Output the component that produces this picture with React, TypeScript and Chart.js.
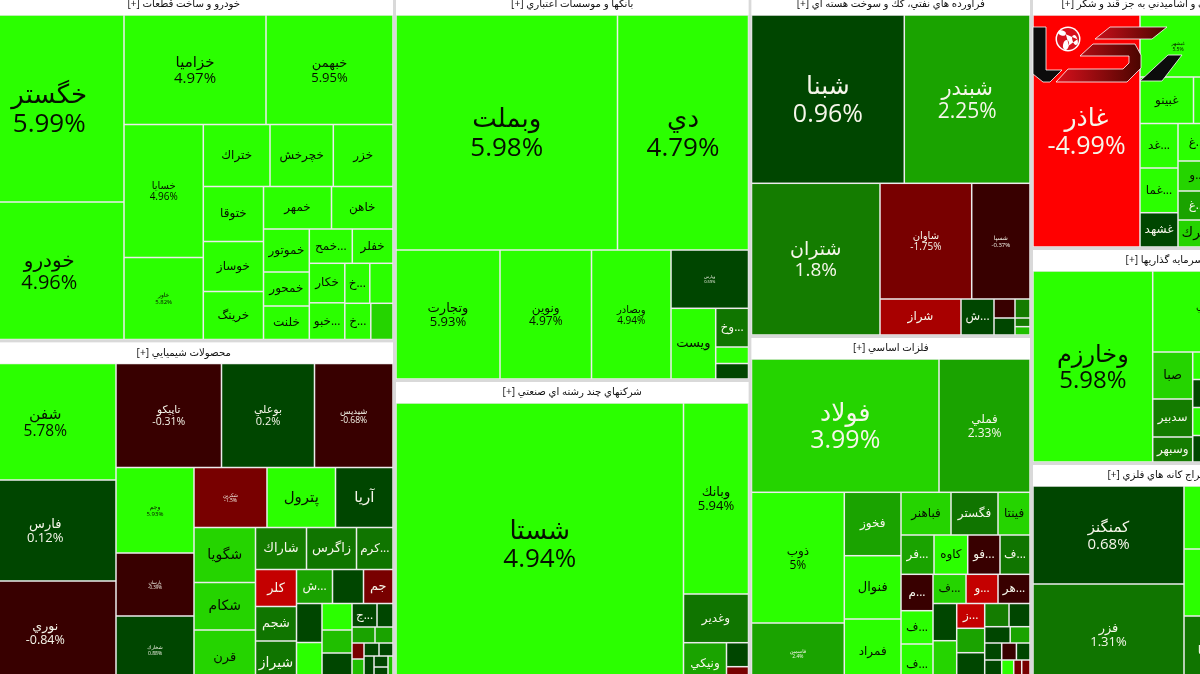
import React, { useEffect, useRef } from "react";
import { Chart, registerables, DatasetController, Element } from "chart.js";

// ---------- shape helpers: a number n means n consecutive leaves ----------
const H = (...kids: any[]) => ({ dir: "h", kids });
const V = (...kids: any[]) => ({ dir: "v", kids });

// ---------- sector titles ----------
const sectorTitles = [
  "خودرو و ساخت قطعات [+]",
  "محصولات شيميايي [+]",
  "بانكها و موسسات اعتباري [+]",
  "شركتهاي چند رشته اي صنعتي [+]",
  "فراورده هاي نفتي، كك و سوخت هسته اي [+]",
  "فلزات اساسي [+]",
  "محصولات غذايي و اشاميدني به جز قند و شكر [+]",
  "سرمايه گذاريها [+]",
  "استخراج كانه هاي فلزي [+]",
];
const sectorCaps = [146894, 145418, 137934, 108603, 96836, 98384, 67968, 57083, 59074];

// ---------- Auto ----------
const autoNames = ["خگستر", "خودرو", "خزاميا", "خبهمن", "خسايا", "خاور", "ختراك", "خچرخش", "خزر", "ختوقا", "خوساز", "خرينگ", "خمهر", "خاهن", "خموتور", "خمحور", "خلنت", "خمح...", "خفلر", "خكار", "خبو...", "خ...", "", "خ...", ""];
const autoChanges = [5.99, 4.96, 4.97, 5.95, 4.96, 5.82, 5, 5, 5, 5, 5, 5, 5, 5, 5, 5, 5, 5, 5, 5, 5, 5, 5, 5, 4.2];
const autoCaps = [27957, 20556, 15549, 13907, 10547, 6503, 4135, 3925, 3701, 3311, 3010, 2890, 2890, 2614, 1969, 1557, 1534, 1475, 1396, 1402, 1303, 1000, 928, 941, 804];
const autoShape = H(V(2), V(H(2), H(V(2), V(H(3), H(V(3), V(H(2), H(V(3), V(H(2), H(V(2), V(H(2), H(2)))))))))));

// ---------- Chemicals ----------
const chemNames = ["شفن", "فارس", "نوري", "تاپيكو", "بوعلي", "شيديس", "وجم", "پارسان", "شخارك", "شكربن", "پترول", "آريا", "شگويا", "شكام", "قرن", "شاراك", "زاگرس", "كرم...", "كلر", "شجم", "شيراز", "ش...", "", "جم", "", "", "", "", "", "ج...", "", "", "", "", "", "", "", "", "", "", ""];
const chemChanges = [5.78, 0.12, -0.84, -0.31, 0.2, -0.68, 5.93, -0.39, 0.88, -1.5, 5, 0.5, 4.2, 4.2, 4.2, 1.9, 1.2, 1.2, -3.5, 1.2, 1.2, 2.2, 0.5, -1.6, 0.5, 5, 5, 3, 0.5, 0.6, 0.6, 2.3, 2.3, -1.6, 3, 0.5, 0.5, 0.5, 0.5, 0.5, 3];
const chemCaps = [16485, 14292, 14645, 10972, 9672, 8164, 6669, 4914, 5343, 4380, 4110, 3450, 3383, 2921, 3352, 2142, 2100, 1533, 1517, 1415, 1784, 1224, 1054, 1003, 995, 1071, 795, 690, 945, 588, 376, 368, 288, 192, 306, 195, 182, 285, 154, 245, 142];
const chemShape = H(V(3), V(H(3), H(V(3), V(H(3), H(V(3), V(H(3), H(V(3), V(H(3), H(V(2), V(3), V(H(2), H(2), H(V(2), V(H(2), H(1, V(2), 1)))))))))))));

// ---------- Banks ----------
const bankNames = ["وبملت", "دي", "وتجارت", "ونوين", "وبصادر", "وپارس", "ويست", "وخ...", "", ""];
const bankChanges = [5.98, 4.79, 5.93, 4.97, 4.94, 0.59, 4.9, 1.2, 5, 0.3];
const bankCaps = [52053, 30785, 13416, 11804, 10256, 4518, 3160, 1269, 541, 508];
const bankShape = V(H(2), H(3, V(1, H(1, V(3)))));

// ---------- Multi-industry ----------
const multiNames = ["شستا", "وبانك", "وغدير", "ونيكي", "", ""];
const multiChanges = [4.94, 5.94, 1.2, 2.2, 0.3, -1.5];
const multiCaps = [80931, 12415, 3166, 1797, 528, 392];
const multiShape = H(1, V(2, H(1, V(2))));

// ---------- Oil products ----------
const oilNames = ["شبنا", "شبندر", "شتران", "شاوان", "شسپا", "شراز", "ش...", "", "", "", "", ""];
const oilChanges = [0.96, 2.25, 1.8, -1.75, -0.37, -2.5, 0.5, -0.5, 0.5, 1.5, 1.5, 3];
const oilCaps = [25716, 21155, 19493, 10610, 6745, 2916, 1188, 399, 357, 285, 130, 125];
const oilShape = V(H(2), H(1, V(H(2), H(2, V(2), V(3)))));

// ---------- Basic metals ----------
const metalNames = ["فولاد", "فملي", "ذوب", "فاسمين", "فخوز", "فنوال", "فمراد", "فباهنر", "فگستر", "فينتا", "فر...", "كاوه", "فو...", "ف...", "م...", "ف...", "ف...", "ف...", "و...", "هر...", "", "", "ز...", "", "", "", "", "", "", "", "", "", "", "", "", ""];
const metalChanges = [3.99, 2.33, 5, 2.4, 2.2, 5, 5, 4.2, 1.2, 4.2, 2.3, 5, -0.5, 1.2, -0.5, 5, 5, 4.2, -3.5, -0.5, 0.5, 4.2, -3.5, 2.3, 0.5, 1.5, 0.5, 0.5, 2.3, 0.5, -0.5, 0.5, 0.5, 5, -1.6, -1.6];
const metalCaps = [24994, 12130, 12129, 5707, 3595, 3589, 3714, 2135, 2007, 1366, 1297, 1324, 1269, 1179, 1165, 1066, 1296, 964, 934, 934, 882, 1038, 694, 683, 890, 564, 487, 416, 323, 289, 250, 231, 417, 294, 196, 203];
const metalShape = V(H(2), H(V(2), V(3), V(H(3), H(4), H(V(3), V(H(3), H(V(2), V(3), V(H(2), H(2), H(3), H(4))))))));

// ---------- Food ----------
const foodNames = ["غاذر", "غبشهر", "", "غبينو", "", "غد...", "غما...", "غشهد", "غ...", "و...", "غ...", "غبرك", ""];
const foodChanges = [-4.99, 5.5, 5, 5, 5, 5, 5, 0.5, 5, 4.2, 2.3, 4.1, 5];
const foodCaps = [24824, 4712, 4929, 2488, 4743, 1691, 1699, 1303, 1425, 1140, 1102, 1026, 9818];
const foodShape = H(1, V(H(2), H(2), H(V(3), V(4), 1)));

// ---------- Investment ----------
const investNames = ["وخارزم", "وبوعلي", "", "صبا", "سدبير", "وسبهر", "", "", "", "", ""];
const investChanges = [5.98, 5.5, 5, 4.1, 1.9, 1.5, 5, 0.5, 5, 0.5, 5];
const investCaps = [22863, 9477, 2090, 1880, 1520, 1000, 1100, 1120, 1120, 1060, 6908];
const investShape = H(1, V(H(2), H(V(3), V(4), 1)));

// ---------- Mining ----------
const mineNames = ["كمنگنز", "فزر", "", "", "تا...", ""];
const mineChanges = [0.68, 1.31, 5, 5, 1.2, 5];
const mineCaps = [14798, 15176, 2772, 2948, 3014, 13399];
const mineShape = H(V(2), V(3), 1);

// ---------- Label style (not data) ----------
const labelSizes: Record<string, number> = {
  "خگستر": 26, "خودرو": 20, "خزاميا": 15, "خبهمن": 13, "خسايا": 10, "خاور": 6,
  "شفن": 15.5, "فارس": 13, "نوري": 12.5, "تاپيكو": 10.5, "بوعلي": 11, "شيديس": 8.5, "وجم": 6, "پارسان": 4.5, "شخارك": 5, "شكربن": 5,
  "پترول": 15, "آريا": 15, "شگويا": 14, "شكام": 14, "قرن": 13, "شاراك": 13, "زاگرس": 13, "شيراز": 14, "كلر": 13, "شجم": 13, "جم": 13,
  "وبملت": 26, "دي": 26, "وتجارت": 13, "ونوين": 12, "وبصادر": 10, "وپارس": 4, "ويست": 13,
  "شستا": 26, "وبانك": 13, "شبنا": 25, "شبندر": 21, "شتران": 19, "شاوان": 10, "شسپا": 6,
  "فولاد": 25, "فملي": 12, "ذوب": 12, "فاسمين": 5, "كمنگنز": 15, "فزر": 13, "غاذر": 25, "وخارزم": 24, "غبشهر": 5, "وبوعلي": 10,
  "صبا": 13, "فنوال": 13, "غبرك": 14,
};
const labelsWithPct = new Set([
  "خگستر", "خودرو", "خزاميا", "خبهمن", "خسايا", "خاور", "شفن", "فارس", "نوري", "تاپيكو", "بوعلي", "شيديس", "وجم", "پارسان", "شخارك", "شكربن",
  "وبملت", "دي", "وتجارت", "ونوين", "وبصادر", "وپارس", "شستا", "وبانك", "شبنا", "شبندر", "شتران", "شاوان", "شسپا",
  "فولاد", "فملي", "ذوب", "فاسمين", "كمنگنز", "فزر", "غاذر", "وخارزم", "غبشهر", "وبوعلي",
]);

const colorFor = (p: number) => {
  if (p >= 4.5) return "#2bff00";
  if (p >= 3.5) return "#25d400";
  if (p >= 2.5) return "#20bf00";
  if (p >= 2) return "#1aa300";
  if (p >= 1.5) return "#147c00";
  if (p >= 1) return "#107500";
  if (p >= 0) return "#004600";
  if (p > -1) return "#380000";
  if (p > -2) return "#780000";
  if (p > -3) return "#a80000";
  if (p > -4) return "#c40000";
  return "#ff0000";
};

const FONT = '"Open Sans", "DejaVu Sans", sans-serif';

class TreemapCell extends Element {
  static id = "treemapCell";
  static defaults = {};
  draw(ctx: CanvasRenderingContext2D) {
    const e: any = this;
    const { left, top, right, bottom, item } = e;
    ctx.save();
    if (item.kind === "sector") {
      ctx.fillStyle = "#ececec";
      ctx.fillRect(left, top, right - left, bottom - top);
      ctx.fillStyle = "#ffffff";
      ctx.fillRect(left, top, right - left, 21);
      ctx.fillStyle = "#111111";
      ctx.font = `10.2px ${FONT}`;
      (ctx as any).direction = "rtl";
      ctx.textAlign = "center";
      ctx.textBaseline = "middle";
      ctx.fillText(item.label, (left + right) / 2, top + 10.5);
      ctx.restore();
      return;
    }
    const inset = 0.75;
    ctx.fillStyle = colorFor(item.change);
    ctx.fillRect(left + inset, top + inset, right - left - 2 * inset, bottom - top - 2 * inset);
    if (item.label) {
      ctx.beginPath();
      ctx.rect(left, top, right - left, bottom - top);
      ctx.clip();
      const size = labelSizes[item.label] ?? 12;
      ctx.fillStyle = item.change >= 4 ? "#061000" : "#f6f6ea";
      ctx.font = `${size}px ${FONT}`;
      ctx.textAlign = "center";
      ctx.textBaseline = "middle";
      const cx = (left + right) / 2;
      const cy = (top + bottom) / 2;
      if (labelsWithPct.has(item.label)) {
        ctx.fillText(item.label, cx, cy - size * 0.48);
        ctx.fillText(`${item.change}%`, cx, cy + size * 0.62);
      } else {
        ctx.fillText(item.label, cx, cy);
      }
    }
    ctx.restore();
  }
}

class TreemapController extends DatasetController {
  static id = "treemap";
  static defaults = { dataElementType: "treemapCell" };
  update(mode: any) {
    const meta: any = (this as any)._cachedMeta;
    this.updateElements(meta.data, 0, meta.data.length, mode);
  }
  updateElements(els: any[], start: number, count: number, _mode: any) {
    const { xScale, yScale } = (this as any)._cachedMeta;
    const data: any[] = (this as any).getDataset().data;
    for (let i = start; i < start + count; i++) {
      const d = data[i];
      const el = els[i];
      el.item = d;
      el.left = xScale.getPixelForValue(d.x);
      el.right = xScale.getPixelForValue(d.x2);
      el.top = yScale.getPixelForValue(d.y);
      el.bottom = yScale.getPixelForValue(d.y2);
    }
  }
}

Chart.register(...registerables, TreemapCell as any, TreemapController as any);

// ---------- layout: slice by the capitalisation weights ----------
type Box = { x: number; y: number; x2: number; y2: number };
function expand(node: any): any {
  if (typeof node === "number") return node === 1 ? { leaf: true } : { dir: "h", kids: Array.from({ length: node }, () => ({ leaf: true })) };
  const kids: any[] = [];
  node.kids.forEach((k: any) => {
    if (typeof k === "number") for (let i = 0; i < k; i++) kids.push({ leaf: true });
    else kids.push(expand(k));
  });
  return { dir: node.dir, kids };
}
function weigh(node: any, caps: number[], cur: { i: number }): number {
  if (node.leaf) {
    node.index = cur.i++;
    node.weight = caps[node.index];
    return node.weight;
  }
  node.weight = node.kids.reduce((s: number, k: any) => s + weigh(k, caps, cur), 0);
  return node.weight;
}
function place(node: any, box: Box, out: (index: number, b: Box) => void) {
  if (node.leaf) return out(node.index, box);
  let pos = node.dir === "h" ? box.x : box.y;
  const span = node.dir === "h" ? box.x2 - box.x : box.y2 - box.y;
  node.kids.forEach((k: any) => {
    const len = (span * k.weight) / node.weight;
    const b = node.dir === "h" ? { ...box, x: pos, x2: pos + len } : { ...box, y: pos, y2: pos + len };
    place(k, b, out);
    pos += len;
  });
}
function layoutInto(shape: any, caps: number[], box: Box, out: (i: number, b: Box) => void) {
  const tree = expand(shape);
  weigh(tree, caps, { i: 0 });
  place(tree, box, out);
}

// Visible window is a crop of a larger map
const EXTENT: Box = { x: -27, y: -7.5, x2: 1297, y2: 686 };
const rootShape = H(V(2), V(2), V(2), V(3));
const BAND = 21;
const sectorData = [
  { names: autoNames, changes: autoChanges, caps: autoCaps, shape: autoShape },
  { names: chemNames, changes: chemChanges, caps: chemCaps, shape: chemShape },
  { names: bankNames, changes: bankChanges, caps: bankCaps, shape: bankShape },
  { names: multiNames, changes: multiChanges, caps: multiCaps, shape: multiShape },
  { names: oilNames, changes: oilChanges, caps: oilCaps, shape: oilShape },
  { names: metalNames, changes: metalChanges, caps: metalCaps, shape: metalShape },
  { names: foodNames, changes: foodChanges, caps: foodCaps, shape: foodShape },
  { names: investNames, changes: investChanges, caps: investCaps, shape: investShape },
  { names: mineNames, changes: mineChanges, caps: mineCaps, shape: mineShape },
];

function buildPoints() {
  const sectors: any[] = [];
  const cells: any[] = [];
  layoutInto(rootShape, sectorCaps, EXTENT, (si, b) => {
    const inner = { x: b.x + 1.5, y: b.y + 1.5, x2: b.x2 - 1.5, y2: b.y2 - 1.5 };
    sectors.push({ kind: "sector", label: sectorTitles[si], ...inner });
    const s = sectorData[si];
    layoutInto(s.shape, s.caps, { ...inner, y: inner.y + BAND }, (ci, c) => {
      cells.push({ kind: "cell", label: s.names[ci], change: s.changes[ci], ...c });
    });
  });
  return { sectors, cells };
}

const logoPlugin = {
  id: "logoOverlay",
  afterDraw(chart: any) {
    const ctx: CanvasRenderingContext2D = chart.ctx;
    const poly = (pts: number[][], fill: any) => {
      ctx.beginPath();
      pts.forEach((p, i) => (i ? ctx.lineTo(p[0], p[1]) : ctx.moveTo(p[0], p[1])));
      ctx.closePath();
      ctx.fillStyle = fill;
      ctx.fill();
      ctx.stroke();
    };
    ctx.save();
    ctx.strokeStyle = "#ffffff";
    ctx.lineWidth = 0.8;
    poly([[1033, 27], [1046, 27], [1046, 70], [1062, 70], [1050, 82], [1043, 82], [1033, 74]], "#0c0c0c");
    const g1 = ctx.createLinearGradient(1095, 0, 1167, 0);
    g1.addColorStop(0, "#c8101a");
    g1.addColorStop(1, "#4a0500");
    poly([[1095, 39], [1110, 27], [1167, 27], [1152, 39]], g1);
    const g2 = ctx.createLinearGradient(1056, 0, 1141, 0);
    g2.addColorStop(0, "#d8101c");
    g2.addColorStop(1, "#4a0500");
    poly([[1080, 56], [1093, 44], [1135, 44], [1141, 55], [1141, 68], [1127, 82], [1056, 82], [1068, 69], [1123, 69], [1129, 63], [1129, 56]], g2);
    poly([[1140, 81], [1168, 55], [1182, 55], [1162, 81]], "#0c0c0c");
    ctx.beginPath();
    ctx.arc(1068, 39, 12.5, 0, Math.PI * 2);
    ctx.fillStyle = "#ffffff";
    ctx.fill();
    ctx.beginPath();
    ctx.arc(1068, 39, 11, 0, Math.PI * 2);
    ctx.fillStyle = "#d8101c";
    ctx.fill();
    ctx.fillStyle = "#ffffff";
    ctx.beginPath();
    ctx.ellipse(1062, 33, 4, 2.5, 0.3, 0, Math.PI * 2);
    ctx.ellipse(1066, 45, 3, 5, 0.2, 0, Math.PI * 2);
    ctx.ellipse(1075, 40, 2.5, 5, -0.3, 0, Math.PI * 2);
    ctx.fill();
    ctx.restore();
  },
};

export default function App() {
  const ref = useRef<HTMLCanvasElement | null>(null);
  useEffect(() => {
    if (!ref.current) return;
    const { sectors, cells } = buildPoints();
    const chart = new Chart(ref.current, {
      type: "treemap" as any,
      data: {
        datasets: [
          { type: "treemap", data: sectors, parsing: false, order: 2 } as any,
          { type: "treemap", data: cells, parsing: false, order: 1 } as any,
        ],
      },
      options: {
        animation: false,
        responsive: false,
        devicePixelRatio: 1,
        events: [],
        layout: { padding: 0 },
        plugins: { legend: { display: false }, tooltip: { enabled: false }, title: { display: false } },
        scales: {
          x: { type: "linear", min: 0, max: 1200, display: false },
          y: { type: "linear", min: 0, max: 674, reverse: true, display: false },
        },
      } as any,
      plugins: [logoPlugin],
    });
    return () => chart.destroy();
  }, []);
  return (
    <div style={{ position: "fixed", left: 0, top: 0, width: 1200, height: 674, overflow: "hidden", background: "#d9d9d9" }}>
      <canvas ref={ref} width={1200} height={674} style={{ display: "block", width: 1200, height: 674 }} />
    </div>
  );
}
